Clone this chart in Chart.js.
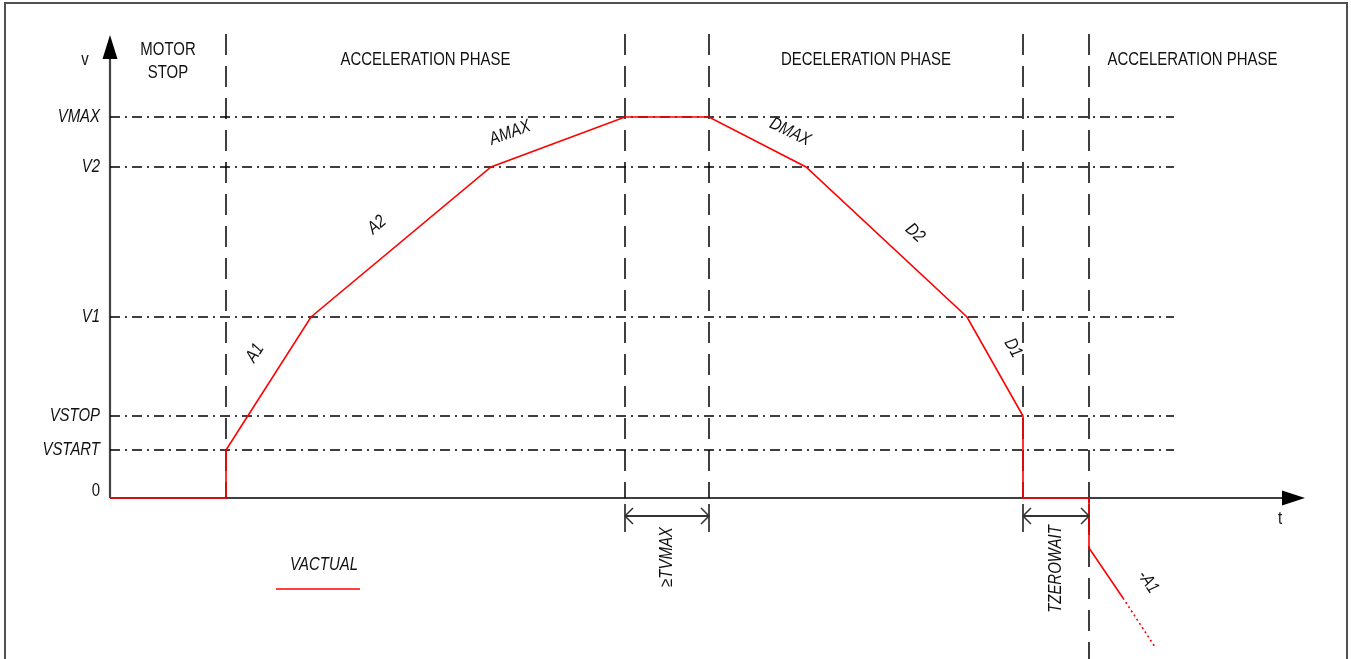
<!DOCTYPE html>
<html><head><meta charset="utf-8">
<script src="https://cdn.jsdelivr.net/npm/chart.js@4.4.0/dist/chart.umd.min.js"></script>
<style>
html,body{margin:0;padding:0;background:#fff;overflow:hidden}
#wrap{position:relative;width:1351px;height:659px}
#frame{position:absolute;left:4px;top:2px;width:1340px;height:720px;border:2px solid #505050;pointer-events:none}
</style></head><body>
<div id="wrap"><canvas id="c"></canvas><div id="frame"></div></div>
<script>
// ---- data (t = time units from origin, v = velocity units) ----
const levelNames  = ['0', 'VSTART', 'VSTOP', 'V1', 'V2', 'VMAX'];
const levelValues = [0, 48, 82, 181, 331, 381];
const profileT = [0, 116, 116, 201, 381, 515, 599, 696, 857, 913, 913, 979, 979, 1013];
const profileV = [0, 0, 48, 181, 331, 381, 381, 331, 181, 82, 0, 0, -50, -100];
const extrapT  = [1013, 1045];
const extrapV  = [-100, -149];
const phaseT   = [116, 515, 599, 913, 979];
const phaseNames = [['MOTOR', 'STOP'], ['ACCELERATION PHASE'], ['DECELERATION PHASE'], ['ACCELERATION PHASE']];
const segmentNames = ['A1', 'A2', 'AMAX', 'DMAX', 'D2', 'D1', '-A1'];
const intervalNames = ['\u2265TVMAX', 'TZEROWAIT'];
const seriesName = 'VACTUAL';

// ---- layout (not data) ----
const T_MIN = -110, T_MAX = 1241, V_MIN = -161, V_MAX = 498;
const levelEndT = 1064, phaseTopV = 464, phaseEndT = 1186;
const axisTopV = 463, axisEndT = 1195;
const segLabelPos = [[145,145,-57],[267,273,-40],[400,365,-20],[680,366,26],[805,265,43],[903,150,60],[1038,-84,56]];
const RED = '#ff0000', INK = '#000000';

const ds = [];
const pts = (ts, vs) => ts.map((t, i) => ({x: t, y: vs[i]}));
function addLine(data, color, width, dash) {
  ds.push({data, borderColor: color, borderWidth: width, borderDash: dash || [], pointRadius: 0, fill: false, tension: 0});
}
// profile (on top)
addLine(pts(profileT, profileV), RED, 1.6);
addLine(pts(extrapT, extrapV), RED, 1.6, [2, 3]);
// vertical phase boundaries
phaseT.forEach((t, i) => addLine([{x: t, y: phaseTopV}, {x: t, y: i === phaseT.length - 1 ? V_MIN : 0}], INK, 1.5, [21, 11]));
// horizontal level lines
levelValues.slice(1).forEach(v => addLine([{x: 0, y: v}, {x: levelEndT, y: v}], INK, 1.4, [10, 5, 2, 5]));
// interval dimension ticks and arrows
[[phaseT[1], phaseT[2]], [phaseT[3], phaseT[4]]].forEach(([a, b]) => {
  addLine([{x: a, y: -18}, {x: b, y: -18}], '#333', 2);
  addLine([{x: a, y: -6}, {x: a, y: -34}], INK, 1.4);
  addLine([{x: b, y: -6}, {x: b, y: -34}], INK, 1.4);
});
// axes
addLine([{x: 0, y: 0}, {x: axisEndT - 20, y: 0}], INK, 1.6);
addLine([{x: 0, y: 0}, {x: 0, y: axisTopV - 20}], '#444', 2.2);
// legend sample
addLine([{x: 166, y: -91}, {x: 250, y: -91}], RED, 1.6);

function txt(ctx, s, x, y, o) {
  ctx.save();
  ctx.translate(x, y);
  if (o.rot) ctx.rotate(o.rot * Math.PI / 180);
  ctx.scale(0.83, 1);
  ctx.font = (o.italic ? 'italic ' : '') + '18px "Liberation Sans", Arial, sans-serif';
  ctx.fillStyle = '#111';
  ctx.textAlign = o.align || 'center';
  ctx.textBaseline = o.base || 'middle';
  ctx.fillText(s, 0, 0);
  ctx.restore();
}

const decor = {
  id: 'decor',
  afterDatasetsDraw(chart) {
    const ctx = chart.ctx, X = chart.scales.x, Y = chart.scales.y;
    const px = t => X.getPixelForValue(t), py = v => Y.getPixelForValue(v);
    ctx.save();
    ctx.fillStyle = '#000';
    // y arrow
    ctx.beginPath();
    ctx.moveTo(px(0), py(axisTopV));
    ctx.lineTo(px(0) - 7.5, py(axisTopV - 24));
    ctx.lineTo(px(0) + 7.5, py(axisTopV - 24));
    ctx.closePath(); ctx.fill();
    // x arrow
    ctx.beginPath();
    ctx.moveTo(px(axisEndT), py(0));
    ctx.lineTo(px(axisEndT - 23), py(0) - 7.5);
    ctx.lineTo(px(axisEndT - 23), py(0) + 7.5);
    ctx.closePath(); ctx.fill();
    // dimension chevrons
    ctx.strokeStyle = '#333'; ctx.lineWidth = 1.5;
    [[phaseT[1], phaseT[2]], [phaseT[3], phaseT[4]]].forEach(([a, b]) => {
      const y = py(-18);
      ctx.beginPath();
      ctx.moveTo(px(a) + 8, y - 8); ctx.lineTo(px(a), y); ctx.lineTo(px(a) + 8, y + 8);
      ctx.moveTo(px(b) - 8, y - 8); ctx.lineTo(px(b), y); ctx.lineTo(px(b) - 8, y + 8);
      ctx.stroke();
    });
    ctx.restore();
    // axis names
    txt(ctx, 'v', px(-25), py(433), {base: 'alphabetic'});
    txt(ctx, 't', px(1170), py(-26), {base: 'alphabetic'});
    // level labels
    levelNames.forEach((n, i) => {
      const off = i === 0 ? -7 : 0;
      txt(ctx, n, px(-10), py(levelValues[i]) + off, {align: 'right', italic: i !== 0});
    });
    // phase labels
    const spans = [[0, phaseT[0]], [phaseT[0], phaseT[1]], [phaseT[2], phaseT[3]], [phaseT[4], phaseEndT]];
    phaseNames.forEach((lines, i) => {
      const c = (spans[i][0] + spans[i][1]) / 2;
      if (lines.length === 2) {
        txt(ctx, lines[0], px(c), py(443), {base: 'alphabetic'});
        txt(ctx, lines[1], px(c), py(420), {base: 'alphabetic'});
      } else {
        txt(ctx, lines[0], px(c), py(433), {base: 'alphabetic'});
      }
    });
    // segment labels
    segmentNames.forEach((n, i) => {
      const [t, v, r] = segLabelPos[i];
      txt(ctx, n, px(t), py(v), {italic: true, rot: r});
    });
    // interval labels
    txt(ctx, intervalNames[0], px((phaseT[1] + phaseT[2]) / 2), py(-59), {italic: true, rot: -90});
    txt(ctx, intervalNames[1], px((phaseT[3] + phaseT[4]) / 2), py(-71), {italic: true, rot: -90});
    // legend label
    txt(ctx, seriesName, px(214), py(-72), {italic: true, base: 'alphabetic'});
  }
};

new Chart(document.getElementById('c'), {
  type: 'line',
  data: {datasets: ds},
  options: {
    responsive: true, maintainAspectRatio: false, animation: false,
    layout: {padding: 0},
    plugins: {legend: {display: false}, tooltip: {enabled: false}},
    events: [],
    scales: {
      x: {type: 'linear', min: T_MIN, max: T_MAX, display: false},
      y: {type: 'linear', min: V_MIN, max: V_MAX, display: false}
    }
  },
  plugins: [decor]
});
</script>
</body></html>
